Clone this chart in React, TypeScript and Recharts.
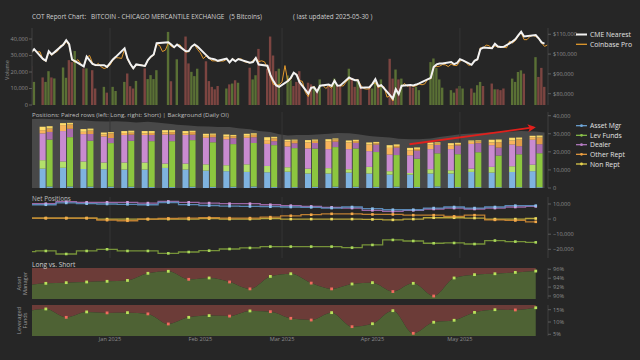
import React from 'react';
import { ComposedChart, Bar, Line, Area, XAxis, YAxis, ReferenceLine, Cell } from 'recharts';

const FONT = '"Open Sans", "Noto Sans", "DejaVu Sans", sans-serif';
const BG = '#262626';

// ---------------- CME Bitcoin futures, daily: [day, settle, volume, bar colour u/d] ----------------
type Trade = [number, number, number, string];

const tradesDec2024: Trade[] = [
  [5, 101000, 23600, 'd'], [6, 102500, 14000, 'u'], [9, 97600, 16700, 'd'], [10, 96700, 14000, 'u'],
  [11, 101400, 20500, 'u'], [12, 99800, 16700, 'd'], [13, 101000, 16100, 'u'], [16, 104800, 22800, 'u'],
  [17, 107000, 16500, 'u'], [18, 105000, 27200, 'd'], [19, 97200, 26000, 'd'], [20, 96500, 32700, 'u'],
  [23, 93800, 22200, 'd'], [24, 98700, 22200, 'u'], [26, 95000, 21100, 'd'], [27, 94500, 10000, 'd'],
  [30, 94400, 11000, 'u'], [31, 93500, 7500, 'd'],
];
const tradesJan2025: Trade[] = [
  [2, 97300, 11000, 'u'], [3, 98600, 8500, 'u'], [6, 102900, 14000, 'u'], [7, 97800, 19100, 'd'],
  [8, 95000, 11400, 'd'], [9, 92800, 10000, 'd'], [10, 94800, 14600, 'u'], [13, 94000, 22200, 'd'],
  [14, 97000, 15700, 'u'], [15, 98700, 18100, 'u'], [16, 99800, 15700, 'u'], [17, 105500, 21100, 'u'],
  [21, 106000, 44300, 'u'], [22, 104800, 14400, 'd'], [23, 103500, 0, 'd'], [24, 104800, 27700, 'u'],
  [27, 101400, 41500, 'd'], [28, 101500, 25200, 'd'], [29, 103800, 20100, 'u'], [30, 104900, 17500, 'u'],
  [31, 103800, 22000, 'u'],
];
const tradesFeb2025: Trade[] = [
  [3, 99500, 26500, 'd'], [4, 98000, 14500, 'd'], [5, 97600, 11000, 'd'], [6, 97300, 9500, 'd'],
  [7, 96600, 11500, 'd'], [10, 97700, 10000, 'u'], [11, 95800, 12500, 'd'], [12, 97500, 13000, 'u'],
  [13, 96400, 15000, 'd'], [14, 97500, 13500, 'u'], [18, 95600, 22600, 'd'], [19, 96000, 15500, 'u'],
  [20, 98000, 18000, 'u'], [21, 94700, 34000, 'd'], [24, 94100, 22000, 'd'], [25, 89500, 41500, 'd'],
  [26, 86500, 30000, 'd'], [27, 84200, 20500, 'd'], [28, 83500, 22000, 'u'],
];
const tradesMar2025: Trade[] = [
  [3, 86400, 17900, 'u'], [4, 88000, 15000, 'u'], [5, 90600, 11500, 'd'], [6, 89500, 14000, 'd'],
  [7, 85800, 20500, 'd'], [10, 80000, 13500, 'd'], [11, 83000, 12500, 'd'], [12, 83200, 11500, 'u'],
  [13, 81000, 10000, 'd'], [14, 84000, 15500, 'u'], [17, 84600, 11500, 'd'], [18, 83900, 10000, 'd'],
  [19, 86500, 16000, 'u'], [20, 84000, 12000, 'd'], [21, 84200, 12500, 'd'], [24, 88200, 22000, 'u'],
  [25, 87400, 16500, 'd'], [26, 86800, 11000, 'd'], [27, 86800, 15000, 'u'], [28, 83000, 12000, 'd'],
  [31, 83300, 11000, 'd'],
];
const tradesApr2025: Trade[] = [
  [1, 85000, 10000, 'u'], [2, 87300, 14000, 'u'], [3, 83800, 12500, 'd'], [4, 84300, 15500, 'u'],
  [7, 79300, 28000, 'd'], [8, 77500, 16000, 'd'], [9, 82300, 21500, 'u'], [10, 79800, 15500, 'd'],
  [11, 84000, 16000, 'u'], [14, 84400, 11500, 'd'], [15, 84200, 10500, 'd'], [16, 84600, 11000, 'u'],
  [17, 85200, 9000, 'u'], [21, 88000, 26000, 'u'], [22, 93500, 28200, 'u'], [23, 94800, 22500, 'u'],
  [24, 95200, 15500, 'u'], [25, 95200, 10500, 'u'], [28, 96000, 9000, 'u'], [29, 94900, 7500, 'u'],
  [30, 95500, 10000, 'd'],
];
const tradesMay2025: Trade[] = [
  [1, 97400, 11500, 'u'], [2, 96800, 10000, 'u'], [5, 94600, 10000, 'd'], [6, 96600, 7500, 'u'],
  [7, 97400, 12000, 'u'], [8, 102500, 14000, 'u'], [9, 103300, 11500, 'd'], [12, 103000, 13000, 'd'],
  [13, 105200, 9500, 'u'], [14, 103800, 9500, 'd'], [15, 103600, 9000, 'd'], [16, 103700, 10000, 'd'],
  [19, 106300, 16000, 'u'], [20, 107500, 14000, 'u'], [21, 109500, 20000, 'u'], [22, 111300, 21000, 'u'],
  [23, 108900, 19000, 'd'], [27, 109600, 29000, 'u'], [28, 108000, 17000, 'd'], [29, 105900, 22500, 'd'],
  [30, 105300, 11000, 'd'],
];

// ---------------- Coinbase Pro daily close (every calendar day) ----------------
const coinbaseDec2024 = [ // from Dec 5
  100600, 102100, 101000, 101200, 97300, 96300, 101000, 99400, 100600, 101400, 104300, 104300, 106400, 104300,
  96900, 95800, 97200, 95100, 93500, 98300, 99300, 95600, 94100, 95300, 93500, 92700, 93300,
];
const coinbaseJan2025 = [
  94400, 96900, 98200, 98100, 97800, 102400, 97300, 94700, 92500, 94500, 94500, 94500, 93700, 96600, 98400, 99400,
  104900, 104400, 101300, 102000, 105600, 103900, 103300, 104600, 104700, 102600, 101000, 101200, 103600, 104700, 102400,
];
const coinbaseFeb2025 = [
  100600, 97700, 99100, 97800, 96600, 96600, 96500, 96500, 96500, 97400, 95800, 97800, 96600, 97500, 97600, 96200,
  95800, 95500, 96600, 98300, 96200, 96600, 96100, 93000, 88700, 84700, 84400, 84400,
];
const coinbaseMar2025 = [
  86000, 94200, 86100, 87200, 90600, 89900, 86700, 86200, 80700, 78500, 82900, 83700, 81100, 83900, 84300, 82600,
  84000, 82700, 86800, 84200, 84000, 83900, 86000, 87400, 87400, 86900, 87200, 84300, 82600, 82300, 82500,
];
const coinbaseApr2025 = [
  85100, 85500, 83100, 83800, 83500, 78200, 79100, 76300, 82600, 79600, 83400, 85200, 83700, 84500, 83600, 84000,
  84900, 84500, 85000, 87500, 87500, 93400, 93700, 93900, 94700, 94600, 93700, 94900, 94300, 94200,
];
const coinbaseMay2025 = [
  96500, 96900, 95900, 94300, 94700, 96800, 97000, 103200, 103000, 104600, 104200, 102800, 104200, 103500, 103700, 103500,
  103200, 106500, 105600, 106800, 109100, 110800, 107300, 107300, 108900, 109400, 108900, 107800, 105600, 103900, 104600,
];

// ---------------- Weekly COT report (Tuesdays) ----------------
const weekDates = [
  '2024-12-10', '2024-12-17', '2024-12-24', '2024-12-31', '2025-01-07', '2025-01-14', '2025-01-21', '2025-01-28',
  '2025-02-04', '2025-02-11', '2025-02-18', '2025-02-25', '2025-03-04', '2025-03-11', '2025-03-18', '2025-03-25',
  '2025-04-01', '2025-04-08', '2025-04-15', '2025-04-22', '2025-04-29', '2025-05-06', '2025-05-13', '2025-05-20', '2025-05-27',
];
const longAssetMgr = [10700, 11200, 10500, 10400, 10200, 10200, 11100, 10200, 9600, 9300, 8900, 8700, 9000, 8000, 8000, 8500, 8000, 7400, 7400, 8000, 8000, 8900, 8500, 8900, 9300];
const longLevFunds = [4700, 3500, 4200, 3700, 3900, 3900, 2400, 3300, 3500, 3300, 4200, 3500, 2500, 2700, 3000, 1900, 3700, 1900, 900, 2400, 1800, 1800, 3200, 3100, 3600];
const longDealer = [14800, 16800, 15100, 14400, 15200, 15200, 16100, 15800, 14700, 14400, 14700, 12200, 11500, 11200, 10500, 11100, 8700, 9200, 9800, 11100, 11700, 13700, 12000, 12100, 13800];
const longOther = [1800, 3300, 1300, 1100, 1100, 900, 1100, 900, 1100, 1500, 1100, 2100, 2800, 3300, 4400, 3700, 3700, 3700, 2800, 2600, 2200, 1200, 1500, 2200, 1400];
const longNonRept = [1900, 1100, 1500, 1100, 1100, 1300, 1300, 1300, 1100, 1100, 1100, 1600, 900, 1300, 1100, 1100, 1100, 1500, 1300, 1100, 1100, 700, 1500, 1500, 800];
const shortAssetMgr = [820, 840, 770, 750, 710, 530, 520, 680, 610, 680, 820, 520, 470, 610, 730, 670, 600, 730, 570, 890, 510, 490, 450, 440, 430];
const shortLevFunds = [26000, 27300, 25400, 24100, 25400, 25400, 25400, 25800, 24700, 23600, 24100, 23200, 21600, 21200, 21900, 21200, 19300, 17500, 15600, 18300, 18200, 19300, 17500, 18200, 18800];
const shortDealer = [4200, 4600, 3700, 2800, 3400, 3400, 3700, 3000, 2800, 3300, 3200, 2200, 2700, 3100, 3000, 3100, 4100, 4100, 4500, 4600, 4800, 5000, 4400, 4500, 5000];
const shortOther = [1900, 2400, 1900, 2600, 1100, 1100, 1300, 1500, 1300, 1100, 1300, 1600, 1400, 1200, 1200, 1000, 800, 900, 900, 800, 800, 1000, 3000, 3700, 3700];
const shortNonRept = [1300, 900, 1100, 700, 1100, 1100, 1100, 700, 700, 700, 900, 800, 600, 700, 600, 700, 700, 900, 900, 700, 700, 600, 1500, 1100, 1100];

// net positions and long share include the preceding report (2024-12-03)
const netDates = ['2024-12-03', ...weekDates];
const netAssetMgr = [9500, 9500, 10700, 10200, 10000, 9800, 9500, 11000, 9600, 9000, 8600, 8400, 8200, 8000, 7800, 7300, 8000, 6900, 6200, 6200, 7300, 8000, 7300, 8000, 8900, 8900];
const netLevFunds = [-21600, -21100, -23100, -21100, -20000, -21100, -21100, -22700, -21800, -20900, -19800, -19100, -18200, -18200, -18200, -18200, -18900, -17100, -13800, -14500, -16000, -15800, -16500, -14200, -14900, -15400];
const netDealer = [10200, 10200, 11500, 11100, 11100, 11100, 10600, 11700, 11100, 10600, 10200, 10200, 9500, 8900, 8400, 7800, 7300, 5800, 5100, 5800, 6700, 7300, 6700, 7300, 8000, 8400];
const netOther = [650, 650, 650, 650, -700, -1100, 0, 400, 650, 900, 650, 650, 1300, 2200, 2900, 3500, 3500, 3100, 3100, 2600, 2600, 1800, 2600, -500, -900, -1800];
const netNonRept = [650, 650, 650, 650, 0, 0, 0, 0, 0, 400, 0, 0, 400, 0, 0, 0, 0, -200, -500, 0, 900, 900, 700, 0, 0, 400];
const longShareAssetMgr = [92.3, 92.85, 93.0, 93.15, 93.3, 93.5, 95.1, 95.55, 93.75, 94.05, 93.15, 91.6, 94.4, 95.0, 92.9, 91.6, 92.7, 93.0, 91.0, 92.85, 90.0, 94.05, 94.8, 95.0, 95.3, 95.6];
const longShareLevFunds = [14.2, 15.3, 11.9, 14.1, 13.7, 13.8, 13.3, 9.2, 11.9, 12.6, 12.4, 14.5, 14.2, 11.5, 10.8, 13.8, 8.1, 9.3, 14.6, 5.4, 9.9, 10.7, 13.9, 15.0, 14.9, 15.8];

// ---------------- Daily open interest (background) ----------------
const oiDates = [
  '2024-12-05', '2024-12-09', '2024-12-13', '2024-12-16', '2024-12-19', '2024-12-23', '2024-12-27', '2024-12-31',
  '2025-01-03', '2025-01-07', '2025-01-10', '2025-01-14', '2025-01-17', '2025-01-22', '2025-01-24', '2025-01-28',
  '2025-01-31', '2025-02-04', '2025-02-07', '2025-02-11', '2025-02-14', '2025-02-18', '2025-02-21', '2025-02-25',
  '2025-02-28', '2025-03-03', '2025-03-06', '2025-03-10', '2025-03-13', '2025-03-17', '2025-03-20', '2025-03-24',
  '2025-03-27', '2025-03-31', '2025-04-03', '2025-04-07', '2025-04-10', '2025-04-14', '2025-04-17', '2025-04-21',
  '2025-04-24', '2025-04-28', '2025-05-01', '2025-05-05', '2025-05-08', '2025-05-12', '2025-05-15', '2025-05-19',
  '2025-05-22', '2025-05-27', '2025-05-30',
];
const oiValues = [
  38100, 38300, 38000, 37900, 37500, 37300, 37000, 36800, 37000, 36600, 36300, 36600, 36200, 35400, 35000, 34600,
  34200, 34000, 33800, 33700, 33000, 32500, 31500, 31000, 29800, 29000, 29300, 29300, 29600, 30000, 30500, 30300,
  29800, 28800, 28300, 28000, 27300, 27000, 27000, 27400, 28200, 29000, 29800, 30200, 30500, 30800, 31000, 31300,
  31600, 31200, 30700,
];

const gridDates = ['2025-01-01', '2025-03-01', '2025-05-01'];
const monthTickDates = ['2025-01-01', '2025-02-01', '2025-03-01', '2025-04-01', '2025-05-01'];
const monthNames = ['Jan', 'Feb', 'Mar', 'Apr', 'May', 'Jun', 'Jul', 'Aug', 'Sep', 'Oct', 'Nov', 'Dec'];
const volumeTicks = [0, 10000, 20000, 30000, 40000];
const priceTicks = [80000, 90000, 100000, 110000];
const positionTicks = [0, 10000, 20000, 30000, 40000];
const netTicks = [-20000, -10000, 0, 10000];
const assetShareTicks = [90, 92, 94, 96];
const levShareTicks = [5, 10, 15];

// ---------------- helpers ----------------
const ORIGIN = Date.UTC(2025, 0, 1);
const dayOf = (y: number, m: number, d: number) => (Date.UTC(y, m - 1, d) - ORIGIN) / 86400000;
const parseDay = (s: string) => dayOf(+s.slice(0, 4), +s.slice(5, 7), +s.slice(8, 10));
const X_DOMAIN: [number, number] = [-26.74, 150.2];

const fmtNum = (v: number) => (v < 0 ? '\u2212' : '') + Math.abs(v).toLocaleString('en-US');

const tradeMonths: [number, number, Trade[]][] = [
  [2024, 12, tradesDec2024], [2025, 1, tradesJan2025], [2025, 2, tradesFeb2025],
  [2025, 3, tradesMar2025], [2025, 4, tradesApr2025], [2025, 5, tradesMay2025],
];
const coinbaseMonths: [number, number, number, number[]][] = [
  [2024, 12, 5, coinbaseDec2024], [2025, 1, 1, coinbaseJan2025], [2025, 2, 1, coinbaseFeb2025],
  [2025, 3, 1, coinbaseMar2025], [2025, 4, 1, coinbaseApr2025], [2025, 5, 1, coinbaseMay2025],
];

const dailyMap = new Map<number, any>();
const dailyRow = (x: number) => {
  let r = dailyMap.get(x);
  if (!r) { r = { x }; dailyMap.set(x, r); }
  return r;
};
tradeMonths.forEach(([y, m, list]) => list.forEach(([d, px, vol, dir]) => {
  const r = dailyRow(dayOf(y, m, d));
  r.cme = px; r.vol = vol > 0 ? vol : null; r.dir = dir;
}));
coinbaseMonths.forEach(([y, m, start, vals]) => vals.forEach((v, i) => { dailyRow(dayOf(y, m, start + i)).cb = v; }));
const dailyRows = [...dailyMap.values()].sort((a, b) => a.x - b.x);

const weekRows = weekDates.map((d, i) => ({
  x: parseDay(d),
  lAM: longAssetMgr[i], lLF: longLevFunds[i], lDL: longDealer[i], lOR: longOther[i], lNR: longNonRept[i],
  sAM: shortAssetMgr[i], sLF: shortLevFunds[i], sDL: shortDealer[i], sOR: shortOther[i], sNR: shortNonRept[i],
}));
const netRows = netDates.map((d, i) => ({
  x: parseDay(d),
  am: netAssetMgr[i], lf: netLevFunds[i], dl: netDealer[i], or: netOther[i], nr: netNonRept[i],
  pa: longShareAssetMgr[i], pl: longShareLevFunds[i],
  upA: i === 0 || longShareAssetMgr[i] >= longShareAssetMgr[i - 1],
  upL: i === 0 || longShareLevFunds[i] >= longShareLevFunds[i - 1],
}));
const oiRows = oiDates.map((d, i) => ({ x: parseDay(d), oi: oiValues[i] }));
const monthLabel = new Map(monthTickDates.map((d) => [parseDay(d), `${monthNames[+d.slice(5, 7) - 1]} ${d.slice(0, 4)}`]));

// ---------------- styles ----------------
const TICK = { fontSize: 5.6, fill: '#8c8c8c', fontFamily: FONT };
const GRID = '#353535';
const VOL_UP = '#5a7035';
const VOL_DOWN = '#7c4541';
const LS_GREEN = '#4e6234';
const LS_RED = '#6c3c38';
const MARK_UP = '#b9e25a';
const MARK_DOWN = '#f26a5e';

const rightAxis = {
  orientation: 'right' as const,
  width: 60,
  tick: TICK,
  tickLine: { stroke: '#5c5c5c' },
  tickSize: 3,
  tickMargin: 2,
  axisLine: { stroke: '#3e3e3e' },
  allowDataOverflow: true,
  interval: 0 as const,
};

const hiddenX = <XAxis type="number" dataKey="x" domain={X_DOMAIN} allowDataOverflow hide />;

const squareDot = (color: string, size: number) => (p: any) => {
  const k = `d-${p.index}`;
  if (p.cx == null || p.cy == null) return <g key={k} />;
  return <rect key={k} x={p.cx - size / 2} y={p.cy - size / 2} width={size} height={size} fill={color} />;
};
const shareDot = (flag: 'upA' | 'upL') => (p: any) => {
  const k = `s-${p.index}`;
  if (p.cx == null || p.cy == null) return <g key={k} />;
  const c = p.payload && p.payload[flag] ? MARK_UP : MARK_DOWN;
  return <rect key={k} x={p.cx - 1.4} y={p.cy - 1.4} width={2.8} height={2.8} fill={c} />;
};
const arrowShape = (p: any) => (
  <line x1={p.x1} y1={p.y1} x2={p.x2} y2={p.y2} stroke="#e0201c" strokeWidth={1.8} markerEnd="url(#cotArrow)" />
);

const posColors = {
  lAM: '#7fb3df', lLF: '#b3e06b', lDL: '#c98bd0', lOR: '#f8b45c', lNR: '#fedc6c',
  sAM: '#6fa3cf', sLF: '#8cc63f', sDL: '#a86aac', sOR: '#e09c48', sNR: '#f2d262',
};
const netStyles = [
  { key: 'lf', line: '#7f9f3c', dot: '#a9d85a' },
  { key: 'nr', line: '#c8b43e', dot: '#eedc62' },
  { key: 'or', line: '#d08a34', dot: '#f5aa4a' },
  { key: 'dl', line: '#a86fb4', dot: '#d39bdc' },
  { key: 'am', line: '#5f93c4', dot: '#8ec0ec' },
];
const posLegend = [
  { label: 'Asset Mgr', color: '#6fa8dc', y: 125.7 },
  { label: 'Lev Funds', color: '#8bc34a', y: 135.3 },
  { label: 'Dealer', color: '#b77cc6', y: 144.7 },
  { label: 'Other Rept', color: '#f0a040', y: 154.3 },
  { label: 'Non Rept', color: '#e8d44d', y: 164 },
];

const Abs = ({ top, children }: { top: number; children: React.ReactNode }) => (
  <div style={{ position: 'absolute', left: 0, top }}>{children}</div>
);

export default function App() {
  const gridLines = (yAxisId?: string) =>
    gridDates.map((d) => (
      <ReferenceLine key={d} x={parseDay(d)} yAxisId={yAxisId as any} stroke={GRID} strokeWidth={1} />
    ));

  return (
    <div style={{ position: 'absolute', left: 0, top: 0, width: 640, height: 360, background: BG, overflow: 'hidden', fontFamily: FONT }}>
      {/* price + volume */}
      <Abs top={0}>
        <ComposedChart width={640} height={111} data={dailyRows} margin={{ top: 28, right: 32, bottom: 6, left: 0 }}>
          {hiddenX}
          <YAxis yAxisId="vol" width={32} domain={[0, 46670]} ticks={volumeTicks} tickFormatter={fmtNum}
            tick={TICK} tickLine={{ stroke: '#5c5c5c' }} tickSize={3} tickMargin={1} axisLine={{ stroke: '#3e3e3e' }} allowDataOverflow interval={0} />
          <YAxis yAxisId="px" {...rightAxis} domain={[74290, 113180]} ticks={priceTicks} tickFormatter={(v: number) => '$' + fmtNum(v)} />
          {gridLines('vol')}
          <Bar yAxisId="vol" dataKey="vol" barSize={2.4} isAnimationActive={false}>
            {dailyRows.map((r, i) => <Cell key={i} fill={r.dir === 'd' ? VOL_DOWN : VOL_UP} />)}
          </Bar>
          <Line yAxisId="px" dataKey="cb" type="linear" stroke="#e39a2d" strokeWidth={1} dot={false} connectNulls isAnimationActive={false} />
          <Line yAxisId="px" dataKey="cme" type="linear" stroke="#f2f2f2" strokeWidth={2} dot={false} connectNulls isAnimationActive={false} />
        </ComposedChart>
      </Abs>

      {/* positions: daily OI background */}
      <Abs top={107}>
        <ComposedChart width={640} height={87} data={oiRows} margin={{ top: 5, right: 32, bottom: 6, left: 32 }}>
          {hiddenX}
          <YAxis {...rightAxis} domain={[0, 42050]} ticks={positionTicks} tickFormatter={fmtNum} />
          {gridLines()}
          <Area dataKey="oi" type="linear" fill="#484848" fillOpacity={1} stroke="none" isAnimationActive={false} />
        </ComposedChart>
      </Abs>
      {/* positions: paired long / short stacks */}
      <Abs top={107}>
        <ComposedChart width={640} height={87} data={weekRows} barGap={1} margin={{ top: 5, right: 92, bottom: 6, left: 32 }}>
          {hiddenX}
          <YAxis hide domain={[0, 42050]} allowDataOverflow />
          {(['lAM', 'lLF', 'lDL', 'lOR', 'lNR'] as const).map((k) => (
            <Bar key={k} dataKey={k} stackId="L" barSize={6} fill={posColors[k]} isAnimationActive={false} />
          ))}
          {(['sAM', 'sLF', 'sDL', 'sOR', 'sNR'] as const).map((k) => (
            <Bar key={k} dataKey={k} stackId="S" barSize={6} fill={posColors[k]} isAnimationActive={false} />
          ))}
          <ReferenceLine segment={[{ x: 102.7, y: 24200 }, { x: 145.2, y: 33500 }]} shape={arrowShape} ifOverflow="visible" />
        </ComposedChart>
      </Abs>

      {/* net positions */}
      <Abs top={192}>
        <ComposedChart width={640} height={71} data={netRows} margin={{ top: 5, right: 32, bottom: 5, left: 32 }}>
          {hiddenX}
          <YAxis {...rightAxis} domain={[-25762, 14636]} ticks={netTicks} tickFormatter={fmtNum} />
          {gridLines()}
          {netStyles.map((s) => (
            <Line key={s.key} dataKey={s.key} type="step" stroke={s.line} strokeWidth={1.3} strokeOpacity={0.9}
              dot={squareDot(s.dot, 2.6)} activeDot={false} isAnimationActive={false} />
          ))}
        </ComposedChart>
      </Abs>

      {/* long vs short: asset manager */}
      <Abs top={263}>
        <ComposedChart width={640} height={41} data={netRows} margin={{ top: 5, right: 32, bottom: 5, left: 32 }}>
          {hiddenX}
          <YAxis {...rightAxis} domain={[89.33, 96.29]} ticks={assetShareTicks} tickFormatter={(v: number) => `${v}%`} />
          <Area dataKey="pa" type="monotone" baseValue="dataMax" fill={LS_RED} fillOpacity={1} stroke="none" isAnimationActive={false} />
          <Area dataKey="pa" type="monotone" fill={LS_GREEN} fillOpacity={1} stroke="none" dot={shareDot('upA')} activeDot={false} isAnimationActive={false} />
        </ComposedChart>
      </Abs>

      {/* long vs short: leveraged funds */}
      <Abs top={300}>
        <ComposedChart width={640} height={48} data={netRows} margin={{ top: 5, right: 32, bottom: 0, left: 32 }}>
          <XAxis type="number" dataKey="x" domain={X_DOMAIN} allowDataOverflow ticks={[...monthLabel.keys()]}
            tickFormatter={(v: number) => monthLabel.get(v) || ''} tick={{ ...TICK, fill: '#8c8c8c' }}
            tickLine={false} axisLine={false} tickSize={0} tickMargin={1.5} height={12} interval={0} />
          <YAxis {...rightAxis} domain={[4.31, 16.91]} ticks={levShareTicks} tickFormatter={(v: number) => `${v}%`} />
          <Area dataKey="pl" type="monotone" baseValue="dataMax" fill={LS_RED} fillOpacity={1} stroke="none" isAnimationActive={false} />
          <Area dataKey="pl" type="monotone" fill={LS_GREEN} fillOpacity={1} stroke="none" dot={shareDot('upL')} activeDot={false} isAnimationActive={false} />
        </ComposedChart>
      </Abs>

      {/* titles, labels and legends */}
      <svg width={640} height={360} style={{ position: 'absolute', left: 0, top: 0, pointerEvents: 'none' }} fontFamily={FONT}>
        <defs>
          <marker id="cotArrow" viewBox="0 0 10 10" refX="7" refY="5" markerWidth="4.5" markerHeight="4.5" orient="auto">
            <path d="M0,0 L10,5 L0,10 L2.5,5 z" fill="#e0201c" />
          </marker>
        </defs>
        <text x={32} y={16.7} fontSize={6.4} fill="#cfcfcf" dominantBaseline="central" style={{ whiteSpace: 'pre' }}>
          {'COT Report Chart:   BITCOIN - CHICAGO MERCANTILE EXCHANGE   (5 Bitcoins)'}
        </text>
        <text x={293} y={16.7} fontSize={6.4} fill="#cfcfcf" dominantBaseline="central">( last updated 2025-05-30 )</text>
        <text transform="translate(7,70) rotate(-90)" fontSize={5.6} fill="#8c8c8c" textAnchor="middle" dominantBaseline="central">Volume</text>
        <text x={32} y={114.3} fontSize={6.1} fill="#bdbdbd" dominantBaseline="central">Positions: Paired rows (left: Long, right: Short) | Background (Daily OI)</text>
        <text x={32} y={198} fontSize={6.3} fill="#bdbdbd" dominantBaseline="central">Net Positions</text>
        <text x={32} y={264.7} fontSize={6.6} fill="#cfcfcf" dominantBaseline="central">Long vs. Short</text>
        <text transform="translate(18.6,283.5) rotate(-90)" fontSize={5.6} fill="#9a9a9a" textAnchor="middle" dominantBaseline="central">Asset</text>
        <text transform="translate(25.2,283.5) rotate(-90)" fontSize={5.6} fill="#9a9a9a" textAnchor="middle" dominantBaseline="central">Manager</text>
        <text transform="translate(18.6,320.5) rotate(-90)" fontSize={5.6} fill="#9a9a9a" textAnchor="middle" dominantBaseline="central">Leveraged</text>
        <text transform="translate(25.2,320.5) rotate(-90)" fontSize={5.6} fill="#9a9a9a" textAnchor="middle" dominantBaseline="central">Funds</text>

        <line x1={576} y1={34.5} x2={587} y2={34.5} stroke="#f2f2f2" strokeWidth={2} />
        <text x={590} y={34.5} fontSize={6.8} fill="#e2e2e2" dominantBaseline="central">CME Nearest</text>
        <line x1={576} y1={44.3} x2={587} y2={44.3} stroke="#e39a2d" strokeWidth={1.3} />
        <text x={590} y={44.3} fontSize={6.8} fill="#e2e2e2" dominantBaseline="central">Coinbase Pro</text>
        {posLegend.map((l) => (
          <g key={l.label}>
            <line x1={576} y1={l.y} x2={587} y2={l.y} stroke={l.color} strokeWidth={1.2} />
            <circle cx={581.5} cy={l.y} r={1.4} fill={l.color} />
            <text x={590} y={l.y} fontSize={6.8} fill="#e2e2e2" dominantBaseline="central">{l.label}</text>
          </g>
        ))}
      </svg>
    </div>
  );
}
